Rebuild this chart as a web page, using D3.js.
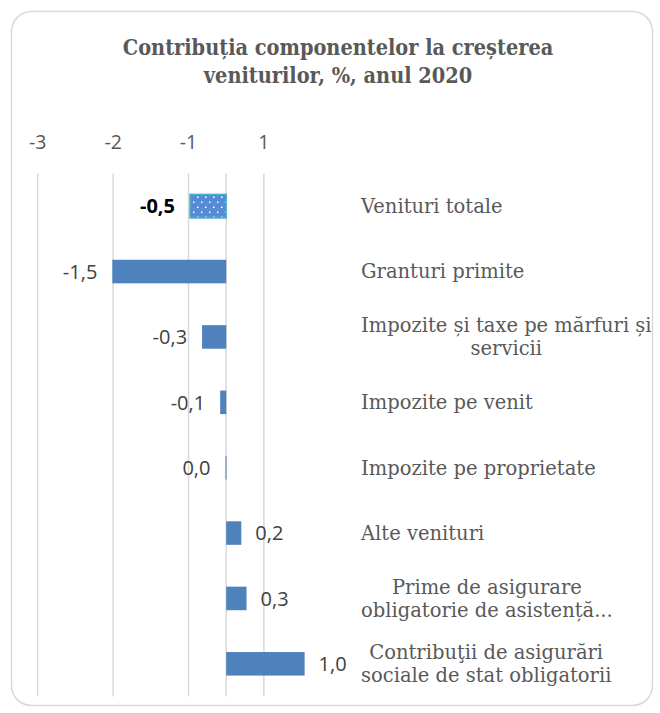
<!DOCTYPE html>
<html>
<head>
<meta charset="utf-8">
<script src="https://cdn.jsdelivr.net/npm/d3@7"></script>
<style>
  body { margin: 0; background: #fff; }
  svg { display: block; }
</style>
</head>
<body>
<div id="chart"></div>
<script>
// data
const categories = [
  ['Venituri totale'],
  ['Granturi primite'],
  ['Impozite și taxe pe mărfuri și', 'servicii'],
  ['Impozite pe venit'],
  ['Impozite pe proprietate'],
  ['Alte venituri'],
  ['Prime de asigurare', 'obligatorie de asistență...'],
  ['Contribuţii de asigurări', 'sociale de stat obligatorii']
];
const values = [-0.48, -1.51, -0.32, -0.08, -0.01, 0.2, 0.27, 1.04];
const valueLabels = ['-0,5', '-1,5', '-0,3', '-0,1', '0,0', '0,2', '0,3', '1,0'];
const tickValues = [-2.5, -1.5, -0.5, 0.5];
const tickLabels = ['-3', '-2', '-1', '1'];
const titleLines = ['Contribuția componentelor la creșterea', 'veniturilor, %, anul 2020'];

const width = 660, height = 713;

const svg = d3.select('#chart')
  .append('svg')
  .attr('width', width)
  .attr('height', height);

const defs = svg.append('defs');
const pat = defs.append('pattern')
  .attr('id', 'dots')
  .attr('patternUnits', 'userSpaceOnUse')
  .attr('width', 8)
  .attr('height', 10);
pat.append('rect').attr('width', 8).attr('height', 10).attr('fill', '#558cd6');
pat.append('rect').attr('x', 1).attr('y', 1.5).attr('width', 1.5).attr('height', 1.5).attr('fill', '#fff');
pat.append('rect').attr('x', 5).attr('y', 6.5).attr('width', 1.5).attr('height', 1.5).attr('fill', '#fff');

// chart frame
svg.append('rect')
  .attr('x', 11.5).attr('y', 11.5)
  .attr('width', 641).attr('height', 694)
  .attr('rx', 20)
  .attr('fill', '#fff')
  .attr('stroke', '#d9d9d9')
  .attr('stroke-width', 1.5);

// title
svg.append('text')
  .attr('x', 338)
  .attr('y', 55)
  .attr('text-anchor', 'middle')
  .attr('font-family', 'DejaVu Serif Condensed, DejaVu Serif, serif')
  .attr('font-weight', 'bold')
  .attr('font-size', 21.5)
  .attr('fill', '#595959')
  .selectAll('tspan')
  .data(titleLines)
  .join('tspan')
  .attr('x', 338)
  .attr('dy', (d, i) => i === 0 ? 0 : 28)
  .text(d => d);

const x = d3.scaleLinear()
  .domain([-2.5, 1.1])
  .range([37.7, 37.7 + 3.6 * 75.4]);

const y = d3.scaleBand()
  .domain(d3.range(categories.length))
  .range([173.5, 696.5])
  .paddingInner(0.64)
  .paddingOuter(0.32);

// gridlines
svg.append('g')
  .selectAll('line')
  .data(tickValues)
  .join('line')
  .attr('x1', d => x(d)).attr('x2', d => x(d))
  .attr('y1', 173.5).attr('y2', 696.5)
  .attr('stroke', '#d9d9d9')
  .attr('stroke-width', 1.5);

// top value axis labels
svg.append('g')
  .selectAll('text')
  .data(tickValues)
  .join('text')
  .attr('x', d => x(d))
  .attr('y', 149)
  .attr('text-anchor', 'middle')
  .attr('font-family', 'Open Sans, sans-serif')
  .attr('font-size', 19.5)
  .attr('fill', '#595959')
  .text((d, i) => tickLabels[i]);

// category axis line at zero
svg.append('line')
  .attr('x1', x(0)).attr('x2', x(0))
  .attr('y1', 173.5).attr('y2', 696.5)
  .attr('stroke', '#d9d9d9')
  .attr('stroke-width', 1.5);

// bars
svg.append('g')
  .selectAll('rect')
  .data(values)
  .join('rect')
  .attr('x', d => x(Math.min(0, d)))
  .attr('y', (d, i) => y(i))
  .attr('width', d => Math.max(Math.abs(x(d) - x(0)), 1))
  .attr('height', y.bandwidth())
  .attr('fill', (d, i) => i === 0 ? 'url(#dots)' : '#4f81bd')
  .attr('stroke', (d, i) => i === 0 ? '#4bacc6' : 'none')
  .attr('stroke-width', 1.5);

// data labels
svg.append('g')
  .selectAll('text')
  .data(values)
  .join('text')
  .attr('x', d => d < 0 ? x(d) - 15 : x(d) + 14)
  .attr('y', (d, i) => y(i) + y.bandwidth() / 2)
  .attr('dy', '0.36em')
  .attr('text-anchor', d => d < 0 ? 'end' : 'start')
  .attr('font-family', 'Open Sans, sans-serif')
  .attr('font-size', 20)
  .attr('font-weight', (d, i) => i === 0 ? 'bold' : 'normal')
  .attr('fill', (d, i) => i === 0 ? '#000' : '#404040')
  .text((d, i) => valueLabels[i]);

// category labels on the right side
const labelX = 361;
const lineH = 23;
const catG = svg.append('g')
  .attr('font-family', 'DejaVu Serif, serif')
  .attr('font-size', 19.5)
  .attr('fill', '#595959');

categories.forEach((lines, i) => {
  const cy = y(i) + y.bandwidth() / 2;
  const t = catG.append('text');
  const spans = t.selectAll('tspan')
    .data(lines)
    .join('tspan')
    .attr('x', labelX)
    .attr('y', (d, j) => cy + (j - (lines.length - 1) / 2) * lineH)
    .attr('dy', '0.35em')
    .text(d => d);
  if (lines.length > 1) {
    // wrapped labels are centred within their block
    const w = d3.max(spans.nodes(), n => n.getComputedTextLength());
    spans.attr('x', labelX + w / 2).attr('text-anchor', 'middle');
  }
});
</script>
</body>
</html>
